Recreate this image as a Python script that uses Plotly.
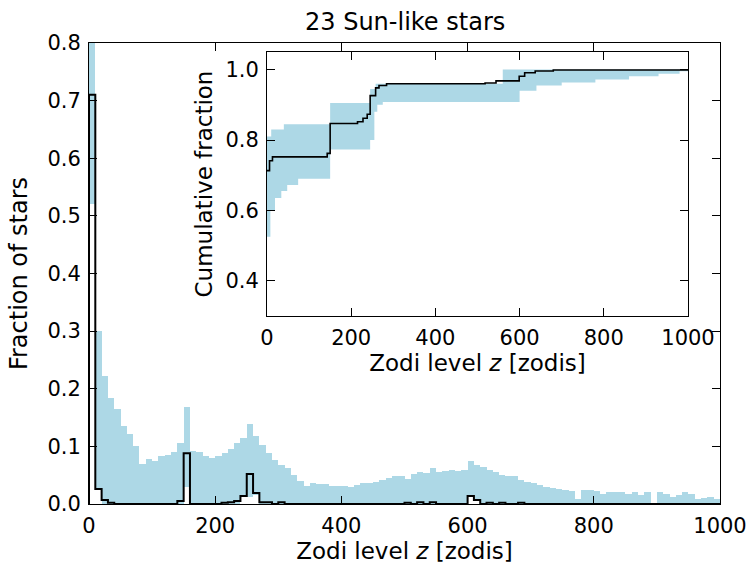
import numpy as np
import plotly.graph_objects as go

# ---------------- data ----------------
bin_width = 10
bin_start = 0
# light-blue band per 10-zodi bin (upper / lower bound of fraction of stars)
blue_upper = [0.95, 0.30, 0.222, 0.184, 0.165, 0.136, 0.121, 0.100, 0.070, 0.078,
              0.075, 0.084, 0.085, 0.091, 0.106, 0.168, 0.092, 0.091, 0.083, 0.079,
              0.083, 0.088, 0.095, 0.106, 0.114, 0.138, 0.118, 0.102, 0.088, 0.076,
              0.068, 0.062, 0.051, 0.040, 0.032, 0.036, 0.035, 0.035, 0.032, 0.032,
              0.032, 0.030, 0.033, 0.036, 0.036, 0.038, 0.041, 0.045, 0.048, 0.048,
              0.043, 0.052, 0.055, 0.053, 0.062, 0.056, 0.058, 0.059, 0.058, 0.059,
              0.074, 0.068, 0.065, 0.059, 0.056, 0.051, 0.048, 0.048, 0.042, 0.039,
              0.037, 0.033, 0.030, 0.027, 0.026, 0.024, 0.023, 0.008, 0.024, 0.024,
              0.022, 0.018, 0.021, 0.021, 0.021, 0.018, 0.020, 0.015, 0.020, 0.0,
              0.020, 0.017, 0.013, 0.016, 0.020, 0.017, 0.008, 0.010, 0.013, 0.008]
blue_lower = [0.52, 0.025, 0.0, 0.0, 0.0, 0.0, 0.0, 0.0, 0.0, 0.0,
              0.0, 0.0, 0.0, 0.0, 0.0, 0.03, 0.0, 0.0, 0.0, 0.0,
              0.0, 0.0, 0.0, 0.0, 0.012, 0.013, 0.015, 0.0, 0.0, 0.0] + [0.0] * 30 + \
             [0.013, 0.006] + [0.0] * 38
# black step histogram: the 23 measured stars
black_hist = [0.71, 0.026, 0.007, 0.002, 0, 0, 0, 0, 0, 0,
              0, 0, 0, 0, 0.005, 0.088, 0, 0, 0, 0,
              0, 0.002, 0.003, 0.005, 0.014, 0.052, 0.019, 0.003, 0.003, 0,
              0.003, 0, 0, 0, 0, 0, 0, 0, 0, 0,
              0, 0, 0, 0, 0, 0, 0, 0, 0, 0,
              0.002, 0, 0.003, 0, 0.003, 0, 0, 0, 0, 0,
              0.014, 0.007, 0, 0.002, 0, 0.002, 0, 0, 0.002, 0] + [0] * 30

# inset: cumulative fraction
cum_z = [0, 6, 13, 143, 150, 215, 228, 238, 245, 258, 266, 284, 518, 544, 599, 612, 637, 680, 1000]
cum_frac = [0.713, 0.741, 0.752, 0.762, 0.847, 0.852, 0.862, 0.873, 0.926, 0.948, 0.955, 0.960,
            0.962, 0.968, 0.981, 0.991, 0.996, 0.999, 1.0]
band_z = [0, 8, 10, 19, 34, 40, 48, 74, 150, 245, 255, 258, 262, 275, 560, 600, 640, 700, 780, 860, 930, 980, 1000]
band_upper = [0.81, 0.81, 0.83, 0.83, 0.83, 0.845, 0.845, 0.845, 0.905, 0.945, 0.945, 0.96, 0.96, 0.96,
              1.0, 1.0, 1.0, 1.0, 1.0, 1.0, 1.0, 1.0, 1.0]
band_lower = [0.525, 0.60, 0.60, 0.635, 0.655, 0.655, 0.672, 0.69, 0.773, 0.80, 0.88, 0.88, 0.90, 0.908,
              0.908, 0.94, 0.955, 0.963, 0.972, 0.981, 0.988, 0.995, 0.995]

main_xticks = [0, 200, 400, 600, 800, 1000]
main_yticks = [0.0, 0.1, 0.2, 0.3, 0.4, 0.5, 0.6, 0.7, 0.8]
inset_yticks = [0.4, 0.6, 0.8, 1.0]

# ---------------- figure ----------------
W, H = 751, 567
ML, MR, MT, MB = 89, 31, 43, 63
FONT = "DejaVu Sans"
BLUE = "#add8e6"

n = len(blue_upper)
edges = bin_start + bin_width * np.arange(n + 1)
centers = edges[:-1] + bin_width / 2
up = np.array(blue_upper)
lo = np.array(blue_lower)

fig = go.Figure()
fig.add_trace(go.Bar(x=centers, y=up - lo, base=lo, width=bin_width,
                     marker=dict(color=BLUE, line=dict(width=0)),
                     xaxis="x", yaxis="y", showlegend=False))

bh = np.array(black_hist, dtype=float)
step_x = np.concatenate([[edges[0]], edges[:-1], [edges[-1]]])
step_y = np.concatenate([[0.0], bh, [0.0]])
fig.add_trace(go.Scatter(x=step_x, y=step_y, mode="lines", line=dict(color="black", width=2, shape="hv"),
                         xaxis="x", yaxis="y", showlegend=False))

# inset band
bz = list(band_z)
fig.add_trace(go.Scatter(x=bz, y=band_lower, mode="lines", line=dict(width=0, shape="hv", color=BLUE),
                         xaxis="x2", yaxis="y2", showlegend=False))
fig.add_trace(go.Scatter(x=bz, y=band_upper, mode="lines", line=dict(width=0, shape="hv", color=BLUE),
                         fill="tonexty", fillcolor=BLUE, xaxis="x2", yaxis="y2", showlegend=False))
fig.add_trace(go.Scatter(x=cum_z, y=cum_frac, mode="lines", line=dict(color="black", width=1.6, shape="hv"),
                         xaxis="x2", yaxis="y2", showlegend=False))

pw = W - ML - MR
ph = H - MT - MB
ix0, ix1 = (267 - ML) / pw, (688 - ML) / pw
iy0, iy1 = (H - MB - 316) / ph, (H - MB - 52) / ph

TICK = 21
axis_common = dict(showline=True, linecolor="black", linewidth=1, mirror="ticks",
                   ticks="inside", ticklen=8, tickwidth=1, tickcolor="black",
                   showgrid=False, zeroline=False, ticklabelstandoff=3, automargin=False,
                   tickfont=dict(family=FONT, size=TICK, color="black"))
label_font = dict(family=FONT, size=23, color="black")

fig.update_layout(
    width=W, height=H,
    margin=dict(l=ML, r=MR, t=MT, b=MB, pad=0, autoexpand=False),
    paper_bgcolor="white", plot_bgcolor="white",
    bargap=0, showlegend=False,
    xaxis=dict(range=[0, 1000], tickvals=main_xticks, domain=[0, 1],
               title=dict(text="Zodi level <i>z</i> [zodis]", font=label_font, standoff=2), **axis_common),
    yaxis=dict(range=[0, 0.8], tickvals=main_yticks, tickformat=".1f", domain=[0, 1],
               title=dict(text="Fraction of stars", font=dict(family=FONT, size=24, color="black"),
                          standoff=12), **axis_common),
    xaxis2=dict(range=[0, 1000], tickvals=main_xticks, domain=[ix0, ix1], anchor="y2",
                title=dict(text="Zodi level <i>z</i> [zodis]", font=label_font, standoff=2), **axis_common),
    yaxis2=dict(range=[0.3, 1.05], tickvals=inset_yticks, tickformat=".1f", domain=[iy0, iy1], anchor="x2",
                title=dict(text="Cumulative fraction", font=label_font, standoff=6), **axis_common),
)
fig.add_annotation(text="23 Sun-like stars", xref="paper", yref="paper", x=0.5, y=1 + (MT - 22) / ph,
                   showarrow=False, font=dict(family=FONT, size=24, color="black"),
                   xanchor="center", yanchor="middle")

fig.write_html("out.html")
